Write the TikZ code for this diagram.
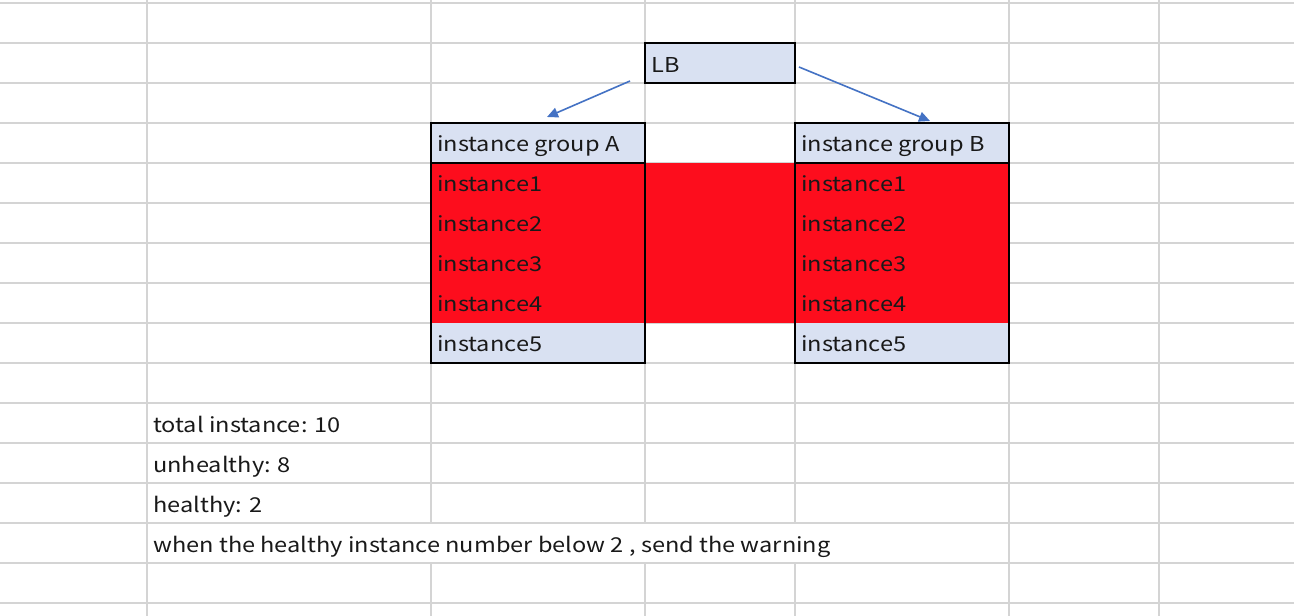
\documentclass[tikz,border=0pt]{standalone}
\usepackage{fontspec}
\setmainfont[FakeStretch=1.15]{Noto Sans CJK JP}
\usetikzlibrary{arrows.meta}
\definecolor{gridgray}{HTML}{D4D4D4}
\definecolor{cellblue}{HTML}{D9E1F2}
\definecolor{cellred}{HTML}{FD0D1D}
\definecolor{arrowblue}{HTML}{4472C4}
\tikzset{
  gridline/.style={draw=gridgray, line width=1.4pt},
  boxframe/.style={draw=black, line width=1.8pt},
  cellbox/.style={rectangle, inner sep=0pt, outer sep=0pt, anchor=north west},
  celltext/.style={anchor=base west, inner sep=0pt, font=\fontsize{20.5}{23}\selectfont, text=black!90},
  conn/.style={draw=arrowblue, line width=1.6pt, -{Triangle[length=11pt,width=10pt]}},
}
\begin{document}
\begin{tikzpicture}[x=1pt,y=-1pt]
\useasboundingbox (0,0) rectangle (1294,616);
\fill[white] (0,0) rectangle (1294,616);
% grid
\foreach \gx in {147,431,645,795,1009,1159} \draw[gridline] (\gx,0) -- (\gx,616);
\foreach \k in {0,...,15} \draw[gridline] (0,3+40*\k) -- (1294,3+40*\k);
% overflow text row hides inner column lines
\fill[white] (148,524.2) rectangle (1008,561.8);
% fills
\node[cellbox, fill=cellred, minimum width=578pt, minimum height=160pt] (redband) at (431,163) {};
\node[cellbox, fill=cellblue, minimum width=150pt, minimum height=40pt] (LB) at (645,43) {};
\node[cellbox, fill=cellblue, minimum width=214pt, minimum height=40pt] (hA) at (431,123) {};
\node[cellbox, fill=cellblue, minimum width=214pt, minimum height=40pt] (hB) at (795,123) {};
\node[cellbox, fill=cellblue, minimum width=214pt, minimum height=40pt] (i5A) at (431,323) {};
\node[cellbox, fill=cellblue, minimum width=214pt, minimum height=40pt] (i5B) at (795,323) {};
% frames
\draw[boxframe] (LB.north west) rectangle (LB.south east);
\draw[boxframe] (hA.north west) rectangle (i5A.south east);
\draw[boxframe] (hA.south west) -- (hA.south east);
\draw[boxframe] (hB.north west) rectangle (i5B.south east);
\draw[boxframe] (hB.south west) -- (hB.south east);
% texts
\node[celltext] (tLB) at (651,72) {LB};
\node[celltext] (tA) at (437,151) {instance group A};
\node[celltext] (tB) at (801,151) {instance group B};
\foreach \n/\yy in {1/191,2/231,3/271,4/311,5/351}{
  \node[celltext] (a\n) at (437,\yy) {instance\n};
  \node[celltext] (b\n) at (801,\yy) {instance\n};
}
\node[celltext] (s1) at (153,432) {total instance: 10};
\node[celltext] (s2) at (153,472) {unhealthy: 8};
\node[celltext] (s3) at (153,512) {healthy: 2};
\node[celltext] (s4) at (153,552) {when the healthy instance number below 2 , send the warning};
% arrows
\coordinate (lbOutA) at (630,81);
\coordinate (inA) at (547,117);
\coordinate (lbOutB) at (799,67);
\coordinate (inB) at (930,121);
\draw[conn] (lbOutA) -- (inA);
\draw[conn] (lbOutB) -- (inB);
\end{tikzpicture}
\end{document}
